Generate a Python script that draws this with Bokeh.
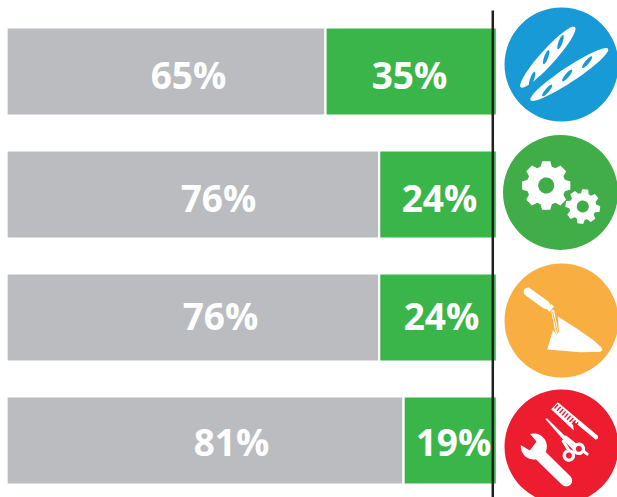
import numpy as np
from bokeh.plotting import figure
from bokeh.models import Range1d
from bokeh.core.properties import value
from bokeh.embed import file_html
from bokeh.resources import INLINE

# ---- data ----
other_share = [65, 76, 76, 81]
green_share = [35, 24, 24, 19]
row = [0, 1, 2, 3]
marker_line = 99.28

# ---- style / layout ----
GRAY, GREEN = "#BBBCBF", "#3AB54A"
ICON_COL = ["#189AD6", "#41AD49", "#F9AE42", "#ED1C2E"]
W, H = 617, 497
PX_X, PX_Y = 4.88, 123.0      # pixels per % and per row
X0, Y0 = 7.8, 71.0            # page pixel of value 0 / row 0
PAD = 0.35                    # compensates the white bar outline at the left end
PAD_R = 0.12                  # same at the right end
FONT = value("Open Sans")
FS = "37px"

def dx(a): return (np.asarray(a, float) - X0) / PX_X
def dy(a): return (np.asarray(a, float) - Y0) / PX_Y
def zx(a): return 480 + np.asarray(a, float) / 3       # icon sketch units -> page px
def zy1(a): return np.asarray(a, float) / 3
def zy2(a): return 250 + np.asarray(a, float) / 3

p = figure(width=W, height=H, output_backend="svg", toolbar_location=None,
           x_range=Range1d(float(dx(0)), float(dx(W))),
           y_range=Range1d(float(dy(H)), float(dy(0))),
           min_border=0, outline_line_color=None, background_fill_color="white",
           border_fill_color="white")
p.axis.visible = False
p.grid.visible = False
p.min_border_left = p.min_border_right = p.min_border_top = p.min_border_bottom = 0

bar_h = 88 / PX_Y
p.hbar(y=row, left=-PAD, right=other_share, height=bar_h, fill_color=GRAY, line_color="white", line_width=2.2)
p.hbar(y=row, left=other_share, right=[o + g + PAD_R for o, g in zip(other_share, green_share)], height=bar_h,
       fill_color=GREEN, line_color="white", line_width=2.2)

# marker line
p.segment(x0=[marker_line], x1=[marker_line], y0=[float(dy(10))], y1=[float(dy(500))],
          line_color="#231F20", line_width=2.5)

# labels (page-pixel placement of each label centre)
gray_lx = [188, 218, 220, 231]
green_lx = [409, 439, 441, 453]
label_ly = [74, 197, 315, 441]
p.text(x=dx(gray_lx), y=dy(label_ly), text=[f"{v}%" for v in other_share], text_color="white",
       text_font=FONT, text_font_size=FS, text_font_style="bold", text_align="center", text_baseline="middle")
p.text(x=dx(green_lx), y=dy(label_ly), text=[f"{v}%" for v in green_share], text_color="white",
       text_font=FONT, text_font_size=FS, text_font_style="bold", text_align="center", text_baseline="middle")

# icon discs
cx, cy, cr = [561, 560, 561, 561], [64, 192, 320, 446], [114, 115, 114, 114]
p.scatter(x=dx(cx), y=dy(cy), size=cr, marker="circle", fill_color=ICON_COL, line_color=None)

def ell(cxp, cyp, l, w, deg, color):
    t = np.linspace(0, 2 * np.pi, 48)
    a = np.radians(deg)
    u, v = l / 2 * np.cos(t), w / 2 * np.sin(t)
    p.patch(dx(cxp + u * np.cos(a) + v * np.sin(a)), dy(cyp - u * np.sin(a) + v * np.cos(a)),
            fill_color=color, line_color=None)

def poly(xs, ys, color="white"):
    p.patch(dx(xs), dy(ys), fill_color=color, line_color=None)

def stroke(xs, ys, w, color="white", cap="round"):
    p.line(dx(xs), dy(ys), line_color=color, line_width=w, line_cap=cap, line_join="round")

# baguettes
ell(547.3, 56.7, 81, 15, 48, "white")
ell(568.8, 74.0, 93, 15, 33.5, "white")
for z1, z2 in [(155, 235), (197, 170), (240, 125)]:
    ell(float(zx(z1)), float(zy1(z2)), 15, 4, 70, ICON_COL[0])
for z1, z2 in [(200, 270), (260, 225), (320, 185)]:
    ell(float(zx(z1)), float(zy1(z2)), 15, 4, 50, ICON_COL[0])

# gears
def gear(cxp, cyp, ro, ri, hole, n=8, rot=0.0):
    xs, ys = [], []
    step = 2 * np.pi / n
    for i in range(n):
        c = rot + i * step
        for off, r in [(-0.30, ri), (-0.17, ro), (0.17, ro), (0.30, ri)]:
            a = c + off * step * 1.25
            xs.append(cxp + r * np.cos(a)); ys.append(cyp + r * np.sin(a))
    poly(xs, ys)
    ell(cxp, cyp, 2 * hole, 2 * hole, 0, ICON_COL[1])

gear(545.7, 185.0, 24.5, 19.5, 8, rot=0.0)
gear(582.3, 206.0, 17.5, 13.5, 6, rot=0.15)

# trowel
stroke(zx([142, 196]), zy2([124, 163]), 8.5)
stroke(zx([205, 214]), zy2([168, 176]), 7, cap="butt")
stroke(zx([217, 229, 234]), zy2([183, 245, 253]), 3)
stroke(zx([217, 231]), zy2([186, 248]), 1, color=ICON_COL[2])
poly(zx([232, 290, 340, 362, 366, 360, 300, 200, 218, 228, 236]),
     zy2([198, 235, 270, 290, 298, 304, 305, 297, 238, 254, 254]))

# comb
poly(zx([232, 352, 353, 346, 276, 280, 212]), zy2([455, 556, 563, 568, 510, 540, 476]))
for i in np.linspace(0, 1, 9):
    x0 = 222 + i * 60; y0 = 474 + i * 54
    stroke(zx([x0, x0 + 11]), zy2([y0, y0 - 12]), 1.4, color=ICON_COL[3], cap="butt")

# scissors
poly(zx([194, 200, 262, 285, 280, 250]), zy2([505, 504, 565, 592, 600, 570]))
stroke(zx([248, 272]), zy2([572, 610]), 3)
stroke(zx([256, 320]), zy2([560, 611]), 3)
for z1, z2 in [(265, 615), (295, 595)]:
    ell(float(zx(z1)), float(zy2(z2)), 12.5, 12.5, 0, "white")
    ell(float(zx(z1)), float(zy2(z2)), 6, 6, 0, ICON_COL[3])

# wrench
stroke(zx([170, 257]), zy2([605, 690]), 12)
ell(float(zx(160)), float(zy2(588)), 26, 26, 0, "white")
poly(zx([147, 168, 148, 118, 105, 130]), zy2([548, 573, 600, 582, 560, 535]), color=ICON_COL[3])

open("out.html", "w").write(file_html(p, INLINE))
